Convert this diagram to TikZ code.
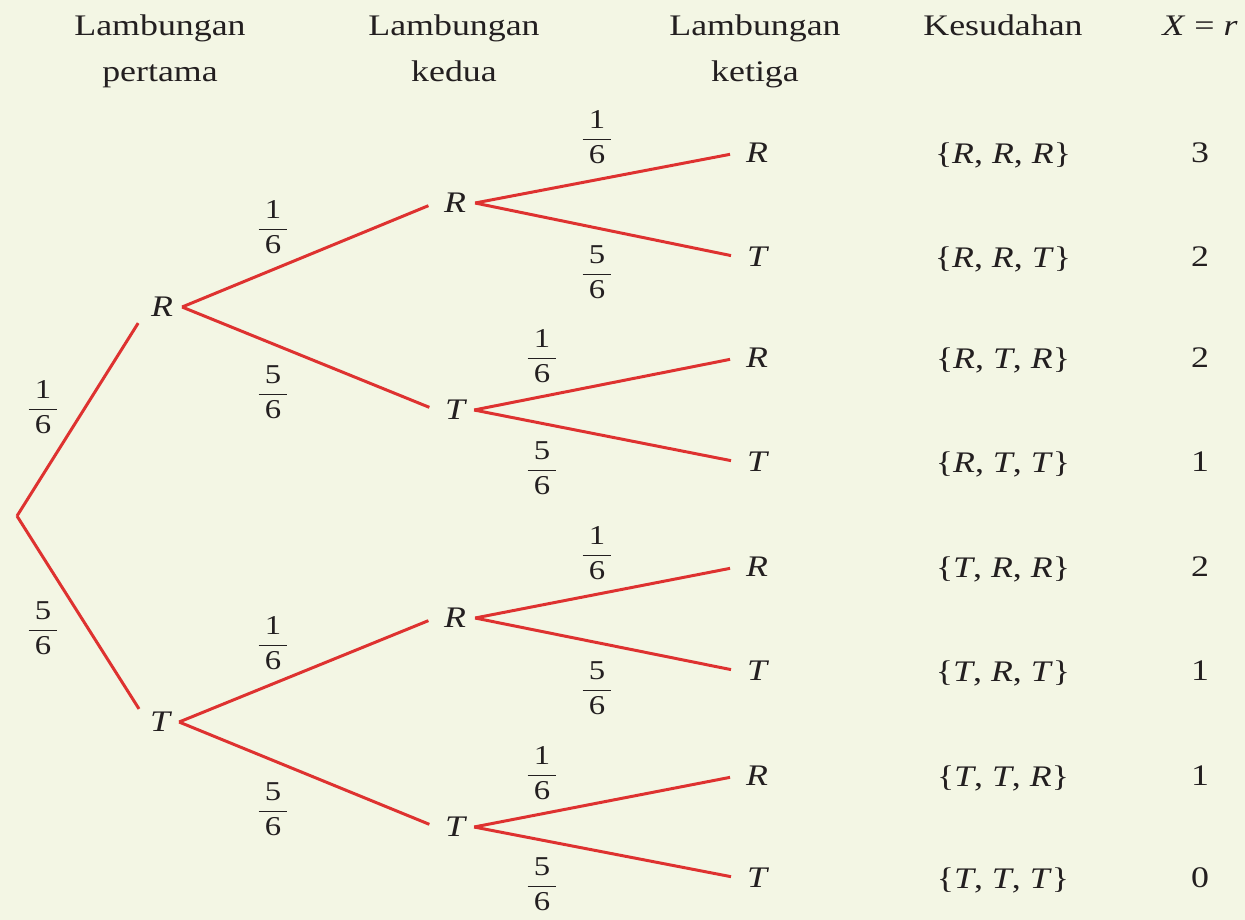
\documentclass[tikz,border=0pt]{standalone}
\usepackage{amsmath}
\usepackage{fontspec}
\setmainfont{Liberation Serif}[FakeStretch=1.2]
\definecolor{latar}{RGB}{243,246,228}
\definecolor{merah}{RGB}{222,50,48}
\definecolor{tinta}{RGB}{35,31,32}
\newcommand{\peluang}[2]{$\dfrac{\kern3.5pt\text{#1}\kern3.5pt}{\kern3.5pt\text{#2}\kern3.5pt}$}
\tikzset{
  teks/.style={text=tinta, font=\fontsize{17}{20}\selectfont},
  pecahan/.style={text=tinta, font=\fontsize{15.5}{18}\selectfont},
  titik/.style={teks, font=\fontsize{17}{20}\selectfont\itshape, inner xsep=5pt, inner ysep=0pt},
  cabang/.style={merah, line width=1.7pt, shorten >=4pt},
}
\begin{document}
\begin{tikzpicture}[x=0.02cm, y=-0.02cm]
  \fill[latar] (0,0) rectangle (1245,920);
  \useasboundingbox (0,0) rectangle (1245,920);

  % judul kolom
  \node[teks, anchor=base] (j1a) at (160,35) {Lambungan};
  \node[teks, anchor=base] (j1b) at (160,81) {pertama};
  \node[teks, anchor=base] (j2a) at (454,35) {Lambungan};
  \node[teks, anchor=base] (j2b) at (454,81) {kedua};
  \node[teks, anchor=base] (j3a) at (755,35) {Lambungan};
  \node[teks, anchor=base] (j3b) at (755,81) {ketiga};
  \node[teks, anchor=base] (j4) at (1003,35) {Kesudahan};
  \node[teks, anchor=base] (j5) at (1200,35) {\textit{X} = \textit{r}};

  % pohon
  \coordinate (akar) at (17,516);
  \node[titik] (r1) at (162,307) {R};
  \node[titik] (t1) at (160,722) {T};
  \node[titik] (rr) at (455,203) {R};
  \node[titik] (rt) at (455,410) {T};
  \node[titik] (tr) at (455,618) {R};
  \node[titik] (tt) at (455,827) {T};
  \node[titik] (rrr) at (757,153) {R};
  \node[titik] (rrt) at (757,257) {T};
  \node[titik] (rtr) at (757,358) {R};
  \node[titik] (rtt) at (757,462) {T};
  \node[titik] (trr) at (757,567) {R};
  \node[titik] (trt) at (757,671) {T};
  \node[titik] (ttr) at (757,776) {R};
  \node[titik] (ttt) at (757,878) {T};

  \draw[cabang] (akar) -- (r1.south west);
  \draw[cabang, shorten >=2pt] (akar) -- (t1.north west);
  \draw[cabang] (r1.east) -- (rr.west);
  \draw[cabang] (r1.east) -- (rt.west);
  \draw[cabang] (t1.east) -- (tr.west);
  \draw[cabang] (t1.east) -- (tt.west);
  \draw[cabang] (rr.east) -- (rrr.west);
  \draw[cabang] (rr.east) -- (rrt.west);
  \draw[cabang] (rt.east) -- (rtr.west);
  \draw[cabang] (rt.east) -- (rtt.west);
  \draw[cabang] (tr.east) -- (trr.west);
  \draw[cabang] (tr.east) -- (trt.west);
  \draw[cabang] (tt.east) -- (ttr.west);
  \draw[cabang] (tt.east) -- (ttt.west);

  % peluang pada cabang
  \node[pecahan] (p1) at (43,407) {\peluang{1}{6}};
  \node[pecahan] (p2) at (43,628) {\peluang{5}{6}};
  \node[pecahan] (p3) at (273,227) {\peluang{1}{6}};
  \node[pecahan] (p4) at (273,392) {\peluang{5}{6}};
  \node[pecahan] (p5) at (273,643) {\peluang{1}{6}};
  \node[pecahan] (p6) at (273,809) {\peluang{5}{6}};
  \node[pecahan] (p7) at (597,137) {\peluang{1}{6}};
  \node[pecahan] (p8) at (597,272) {\peluang{5}{6}};
  \node[pecahan] (p9) at (542,356) {\peluang{1}{6}};
  \node[pecahan] (p10) at (542,468) {\peluang{5}{6}};
  \node[pecahan] (p11) at (597,553) {\peluang{1}{6}};
  \node[pecahan] (p12) at (597,688) {\peluang{5}{6}};
  \node[pecahan] (p13) at (542,773) {\peluang{1}{6}};
  \node[pecahan] (p14) at (542,884) {\peluang{5}{6}};

  % kesudahan
  \node[teks, anchor=base] (k1) at (1003,163) {\{\textit{R}, \textit{R}, \textit{R}\}};
  \node[teks, anchor=base] (k2) at (1003,267) {\{\textit{R}, \textit{R}, \textit{T}\}};
  \node[teks, anchor=base] (k3) at (1003,368) {\{\textit{R}, \textit{T}, \textit{R}\}};
  \node[teks, anchor=base] (k4) at (1003,472) {\{\textit{R}, \textit{T}, \textit{T}\}};
  \node[teks, anchor=base] (k5) at (1003,577) {\{\textit{T}, \textit{R}, \textit{R}\}};
  \node[teks, anchor=base] (k6) at (1003,681) {\{\textit{T}, \textit{R}, \textit{T}\}};
  \node[teks, anchor=base] (k7) at (1003,786) {\{\textit{T}, \textit{T}, \textit{R}\}};
  \node[teks, anchor=base] (k8) at (1003,888) {\{\textit{T}, \textit{T}, \textit{T}\}};

  % nilai X = r
  \node[teks] (x1) at (1200,153) {3};
  \node[teks] (x2) at (1200,257) {2};
  \node[teks] (x3) at (1200,358) {2};
  \node[teks] (x4) at (1200,462) {1};
  \node[teks] (x5) at (1200,567) {2};
  \node[teks] (x6) at (1200,671) {1};
  \node[teks] (x7) at (1200,776) {1};
  \node[teks] (x8) at (1200,878) {0};
\end{tikzpicture}
\end{document}
